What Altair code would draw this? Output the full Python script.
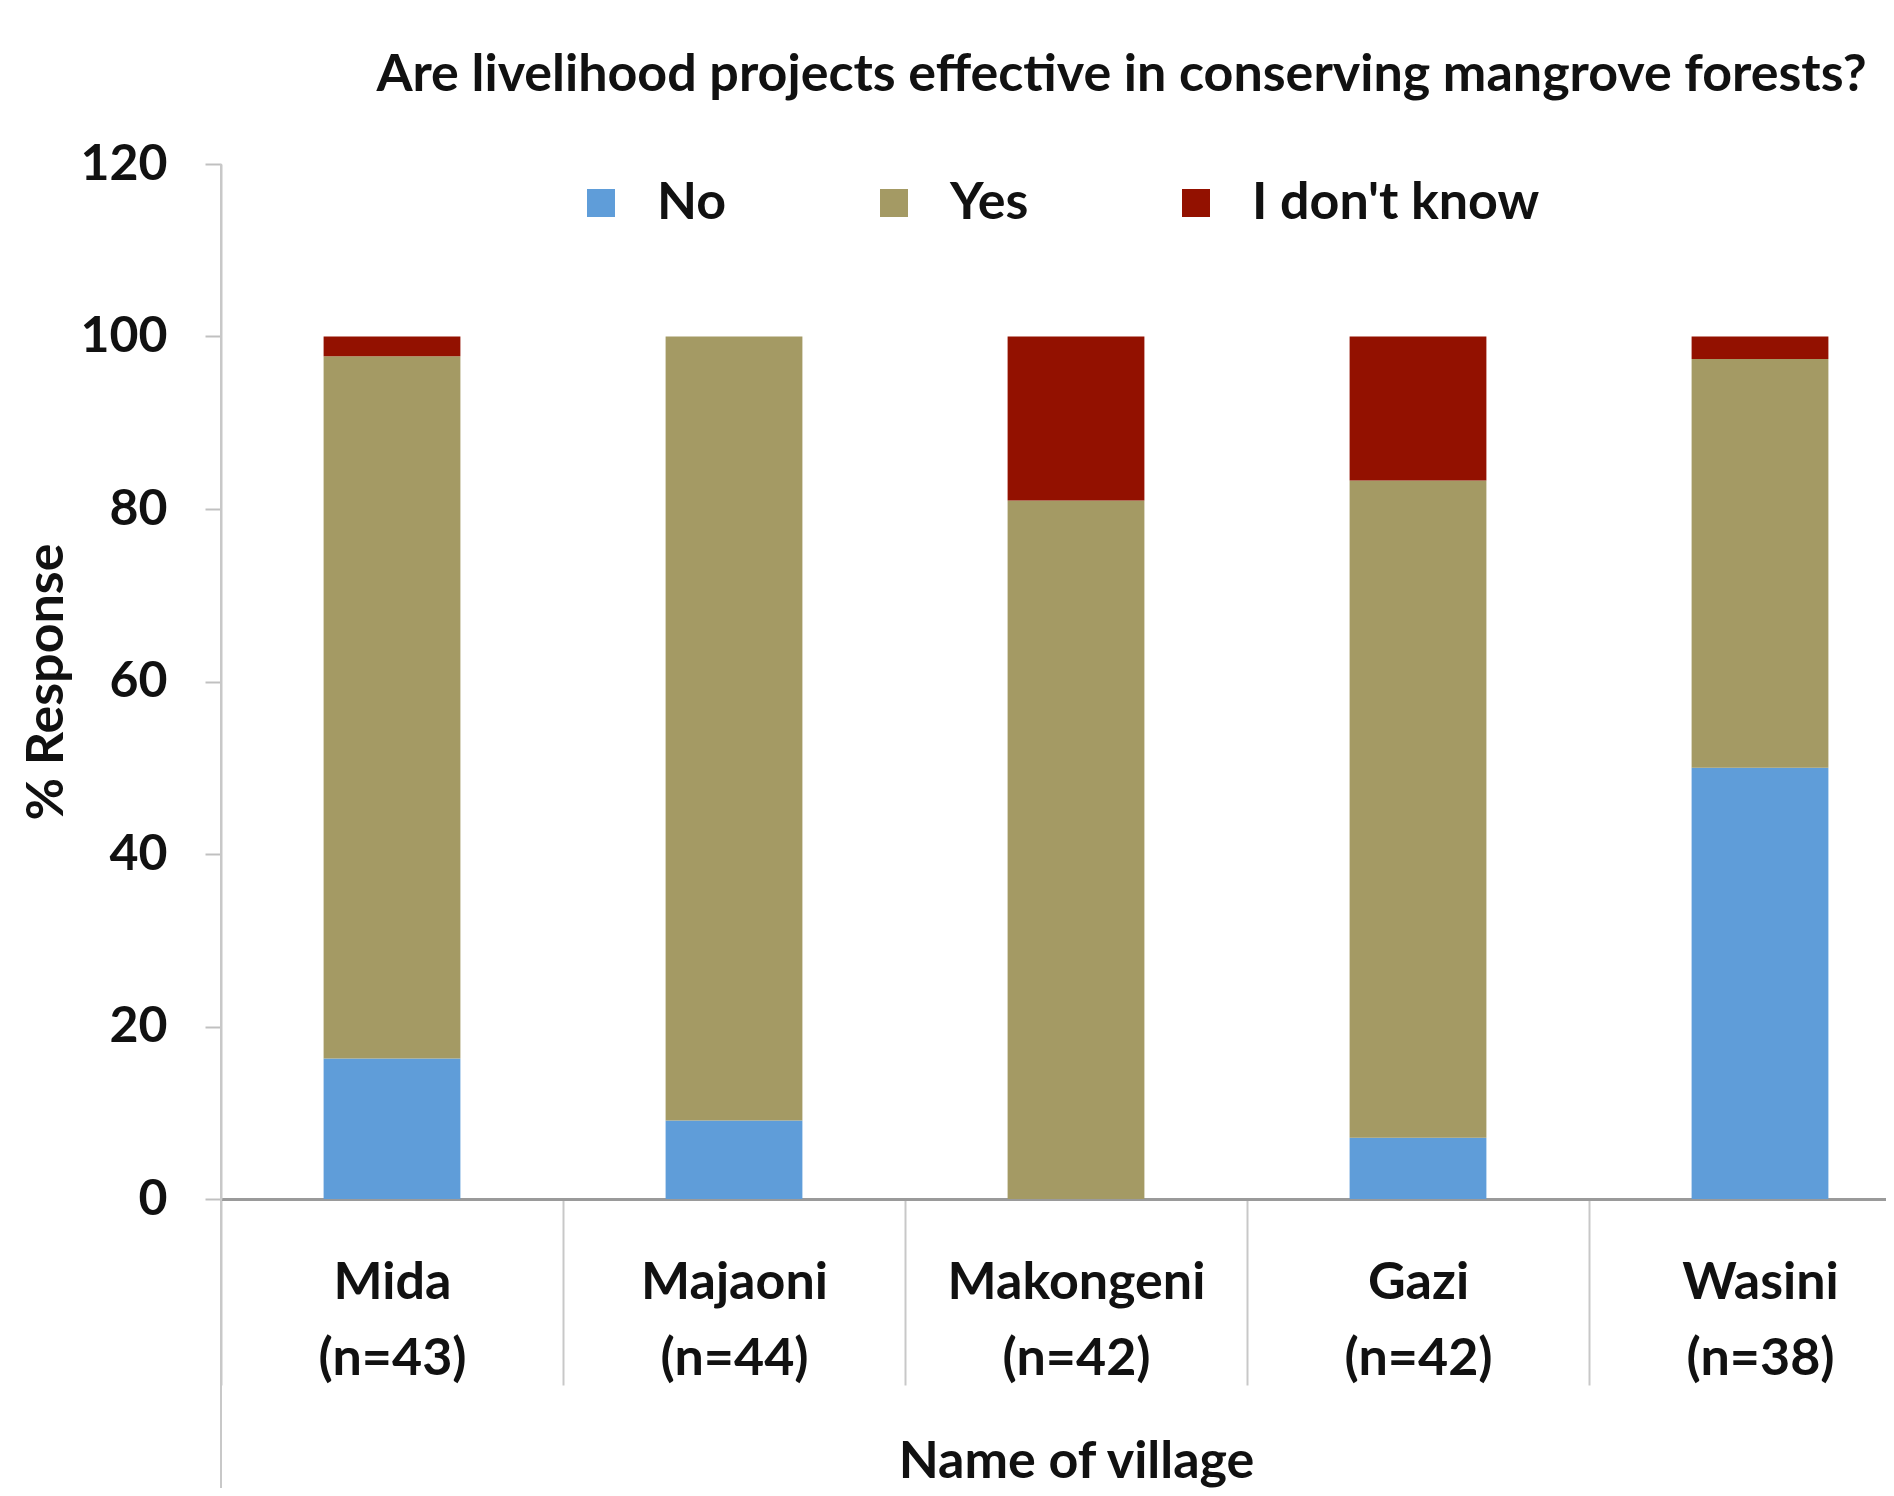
import altair as alt
import pandas as pd

villages = ["Mida\n(n=43)", "Majaoni\n(n=44)", "Makongeni\n(n=42)", "Gazi\n(n=42)", "Wasini\n(n=38)"]
responses = ["No", "Yes", "I don't know"]
no_vals = [16.3, 9.1, 0.0, 7.1, 50.0]
yes_vals = [81.4, 90.9, 81.0, 76.2, 47.4]
dk_vals = [2.3, 0.0, 19.0, 16.7, 2.6]
colors = ["#5F9DD9", "#A49A64", "#931100"]

rows = []
for i, v in enumerate(villages):
    for j, (r, vals) in enumerate(zip(responses, [no_vals, yes_vals, dk_vals])):
        rows.append({"village": v, "response": r, "value": vals[i], "order": j})
df = pd.DataFrame(rows)

FONT = "Lato"
W = 1665
H = 1035

bars = alt.Chart(df).mark_bar(width=alt.RelativeBandSize(0.4)).encode(
    x=alt.X("village:N", sort=villages,
            scale=alt.Scale(range=[0, 1710], paddingInner=0, paddingOuter=0),
            axis=alt.Axis(title="Name of village", labelAngle=0,
                          labelExpr="split(datum.label, '\\n')",
                          labelFont=FONT, labelFontSize=52, labelFontWeight="bold",
                          labelColor="#111", labelLineHeight=76, labelLimit=0,
                          labelPadding=-128, tickBand="extent", tickSize=186,
                          tickColor="#c8c8c8", tickWidth=2,
                          domainColor="#9a9a9a", domainWidth=3,
                          titleFont=FONT, titleFontSize=52, titleFontWeight="bold",
                          titleColor="#111", titleY=262, titleBaseline="middle")),
    y=alt.Y("value:Q", stack="zero",
            scale=alt.Scale(domain=[0, 120], nice=False),
            axis=alt.Axis(title="% Response", values=[0, 20, 40, 60, 80, 100, 120],
                          grid=False, labelFont=FONT, labelFontSize=50,
                          labelFontWeight="bold", labelColor="#111",
                          labelPadding=38, tickSize=16, tickColor="#c0c0c0",
                          tickWidth=2, domainColor="#c8c8c8", domainWidth=2,
                          titleFont=FONT, titleFontSize=52, titleFontWeight="bold",
                          titleColor="#111", titleX=-175, titleY=H / 2,
                          titleBaseline="middle")),
    color=alt.Color("response:N", sort=responses,
                    scale=alt.Scale(domain=responses, range=colors),
                    legend=alt.Legend(title=None, orient="none", legendX=354, legendY=13,
                                      direction="horizontal", symbolType="square",
                                      symbolSize=784, symbolStrokeWidth=0,
                                      labelFont=FONT, labelFontSize=52, labelLimit=0,
                                      labelFontWeight="bold", labelColor="#111",
                                      labelOffset=30, columnPadding=141, padding=0)),
    order=alt.Order("order:Q"),
)

left_line = alt.Chart(pd.DataFrame({"a": [0]})).mark_rule(color="#c8c8c8", strokeWidth=2).encode(
    x=alt.value(0), y=alt.value(0), y2=alt.value(1340)
)

chart = alt.layer(bars, left_line).properties(
    width=W, height=H,
    autosize=alt.AutoSizeParams(type="none"),
    padding={"left": 213, "top": 156, "right": 0, "bottom": 289},
    title=alt.TitleParams(
        text="Are livelihood projects effective in conserving mangrove forests?",
        anchor="middle", dx=68, offset=37, font=FONT, fontSize=52,
        fontWeight="bold", color="#111"),
).configure_view(stroke=None)

chart.save("out.html", embed_options={"renderer": "svg", "actions": False})
